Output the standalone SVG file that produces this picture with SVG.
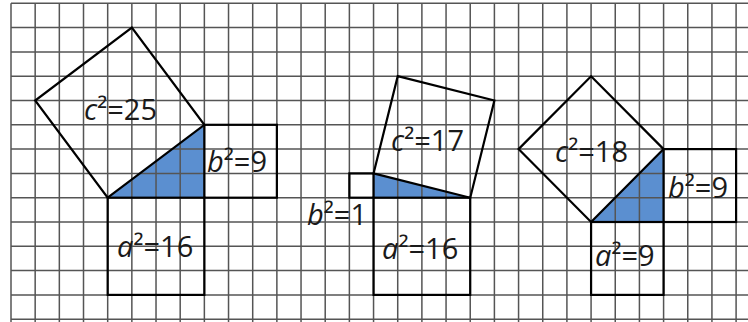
<svg xmlns="http://www.w3.org/2000/svg" width="748" height="322" viewBox="0 0 748 322">
<style>
.tri{fill:#5b8fd0;stroke:none}
.grid{fill:none;stroke:#555;stroke-width:1.5}
.sq{fill:none;stroke:#000;stroke-width:2.2;stroke-linejoin:miter}
.lbl{font-family:"Open Sans","Noto Sans","DejaVu Sans",sans-serif;font-size:29px;fill:#1a1a1a}
.v{font-style:italic}
</style>
<rect width="748" height="322" fill="#fff"/>
<g id="fills">
<polygon class="tri" points="107.68,197.7 204.36,197.7 204.36,124.8"/>
<polygon class="tri" points="373.55,197.7 470.23,197.7 373.55,173.4"/>
<polygon class="tri" points="591.08,222 663.59,222 663.59,149.1"/>
</g>
<g id="grid" class="grid">
<path d="M11,3.3V322M35.17,3.3V322M59.34,3.3V322M83.51,3.3V322M107.68,3.3V322M131.85,3.3V322M156.02,3.3V322M180.19,3.3V322M204.36,3.3V322M228.53,3.3V322M252.7,3.3V322M276.87,3.3V322M301.04,3.3V322M325.21,3.3V322M349.38,3.3V322M373.55,3.3V322M397.72,3.3V322M421.89,3.3V322M446.06,3.3V322M470.23,3.3V322M494.4,3.3V322M518.57,3.3V322M542.74,3.3V322M566.91,3.3V322M591.08,3.3V322M615.25,3.3V322M639.42,3.3V322M663.59,3.3V322M687.76,3.3V322M711.93,3.3V322M736.1,3.3V322"/>
<path d="M11,3.3H748M11,27.6H748M11,51.9H748M11,76.2H748M11,100.5H748M11,124.8H748M11,149.1H748M11,173.4H748M11,197.7H748M11,222H748M11,246.3H748M11,270.6H748M11,294.9H748M11,319.2H748"/>
</g>
<g id="fig1">
<g id="fig1-c2"><polygon class="sq" points="107.68,197.7 204.36,124.8 131.85,27.6 35.17,100.5"/><text class="lbl" x="84" y="120"><tspan class="v">c</tspan>²=25</text></g>
<g id="fig1-b2"><rect class="sq" x="204.36" y="124.8" width="72.51" height="72.9"/><text class="lbl" x="207" y="172"><tspan class="v">b</tspan>²=9</text></g>
<g id="fig1-a2"><rect class="sq" x="107.68" y="197.7" width="96.68" height="97.2"/><text class="lbl" x="117" y="257"><tspan class="v">a</tspan>²=16</text></g>
</g>
<g id="fig2">
<g id="fig2-c2"><polygon class="sq" points="373.55,173.4 470.23,197.7 494.4,100.5 397.72,76.2"/><text class="lbl" x="391" y="151"><tspan class="v">c</tspan>²=17</text></g>
<g id="fig2-b2"><rect class="sq" x="349.38" y="173.4" width="24.17" height="24.3"/><text class="lbl" x="307" y="225"><tspan class="v">b</tspan>²=1</text></g>
<g id="fig2-a2"><rect class="sq" x="373.55" y="197.7" width="96.68" height="97.2"/><text class="lbl" x="382" y="259"><tspan class="v">a</tspan>²=16</text></g>
</g>
<g id="fig3">
<g id="fig3-c2"><polygon class="sq" points="591.08,222 663.59,149.1 591.08,76.2 518.57,149.1"/><text class="lbl" x="555" y="162"><tspan class="v">c</tspan>²=18</text></g>
<g id="fig3-b2"><rect class="sq" x="663.59" y="149.1" width="72.51" height="72.9"/><text class="lbl" x="668" y="198"><tspan class="v">b</tspan>²=9</text></g>
<g id="fig3-a2"><rect class="sq" x="591.08" y="222" width="72.51" height="72.9"/><text class="lbl" x="595" y="266"><tspan class="v">a</tspan>²=9</text></g>
</g>
</svg>
